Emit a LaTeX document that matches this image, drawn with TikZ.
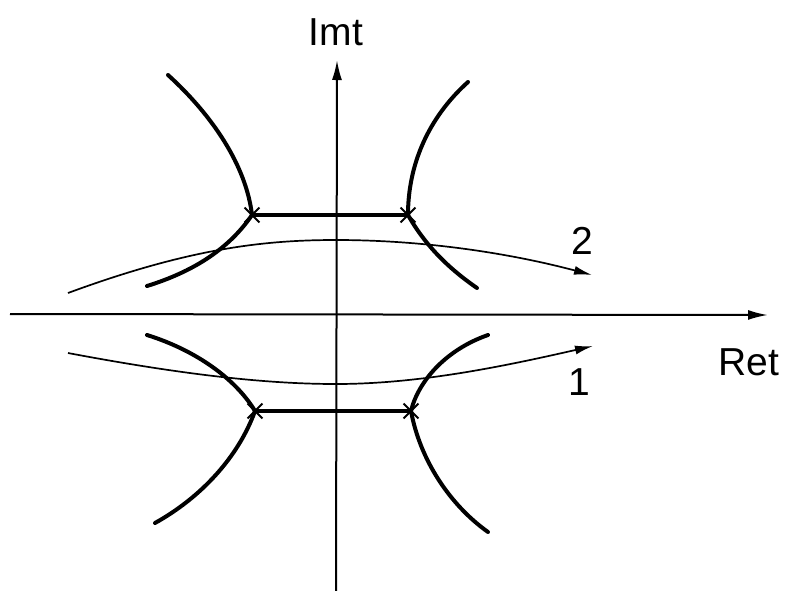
\documentclass[tikz,border=0pt]{standalone}
\usepackage{fontspec}
\setmainfont{Liberation Sans}
\usetikzlibrary{arrows.meta,shapes.misc}
\begin{document}
\begin{tikzpicture}[x=1pt,y=-1pt,
  axis/.style={line width=2pt,-{Latex[length=20pt,width=10pt]}},
  branch/.style={line width=4pt,line cap=round},
  contour/.style={line width=1.7pt,-{Latex[length=18pt,width=9pt]}},
  lbl/.style={font=\fontsize{39}{44}\selectfont,inner sep=0pt},
  xmark/.style={cross out,draw,line width=1.8pt,minimum size=13pt,inner sep=0pt}]
\useasboundingbox (0,0) rectangle (787,590);
% axes
\coordinate (xs) at (10,314);
\coordinate (xe) at (768,315);
\coordinate (ys) at (336,592);
\coordinate (ye) at (337,60);
\draw[axis] (xs) -- (xe);
\draw[axis] (ys) -- (ye);
\node[lbl] (imt) at (336,32) {Imt};
\node[lbl,anchor=west] (ret) at (718,362) {Ret};
% branch points
\node[xmark] (ul) at (252,215) {};
\node[xmark] (ur) at (408,215) {};
\node[xmark] (ll) at (255,411) {};
\node[xmark] (lr) at (411,411) {};
\coordinate (ul1) at (168,75);
\coordinate (ul2) at (147,286);
\coordinate (ur1) at (468,82);
\coordinate (ur2) at (477,288);
\coordinate (ll1) at (147,335);
\coordinate (ll2) at (155,523);
\coordinate (lr1) at (488,335);
\coordinate (lr2) at (488,532);
% cuts
\draw[branch] (ul.center) -- (ur.center);
\draw[branch] (ll.center) -- (lr.center);
% branches
\draw[branch] (ul1) .. controls (212,115) and (246,165) .. (ul.center);
\draw[branch] (ul.center) .. controls (228,250) and (192,272) .. (ul2);
\draw[branch] (ur1) .. controls (428,118) and (408,165) .. (ur.center);
\draw[branch] (ur.center) .. controls (425,245) and (448,268) .. (ur2);
\draw[branch] (ll1) .. controls (195,350) and (235,378) .. (ll.center);
\draw[branch] (ll.center) .. controls (238,458) and (200,498) .. (ll2);
\draw[branch] (lr1) .. controls (445,350) and (418,382) .. (lr.center);
\draw[branch] (lr.center) .. controls (420,460) and (450,505) .. (lr2);
% contours
\coordinate (c2s) at (68,293);
\coordinate (c2m) at (336,240);
\coordinate (c2e) at (592,275);
\coordinate (c1s) at (68,353);
\coordinate (c1m) at (336,384);
\coordinate (c1e) at (593,346);
\draw[contour] (c2s) .. controls (190,248) and (265,240) .. (c2m) .. controls (420,240) and (505,252) .. (c2e);
\draw[contour] (c1s) .. controls (195,377) and (275,384) .. (c1m) .. controls (420,384) and (505,366) .. (c1e);
\node[lbl] (n2) at (582,241) {2};
\node[lbl] (n1) at (579,382) {1};
\end{tikzpicture}
\end{document}
